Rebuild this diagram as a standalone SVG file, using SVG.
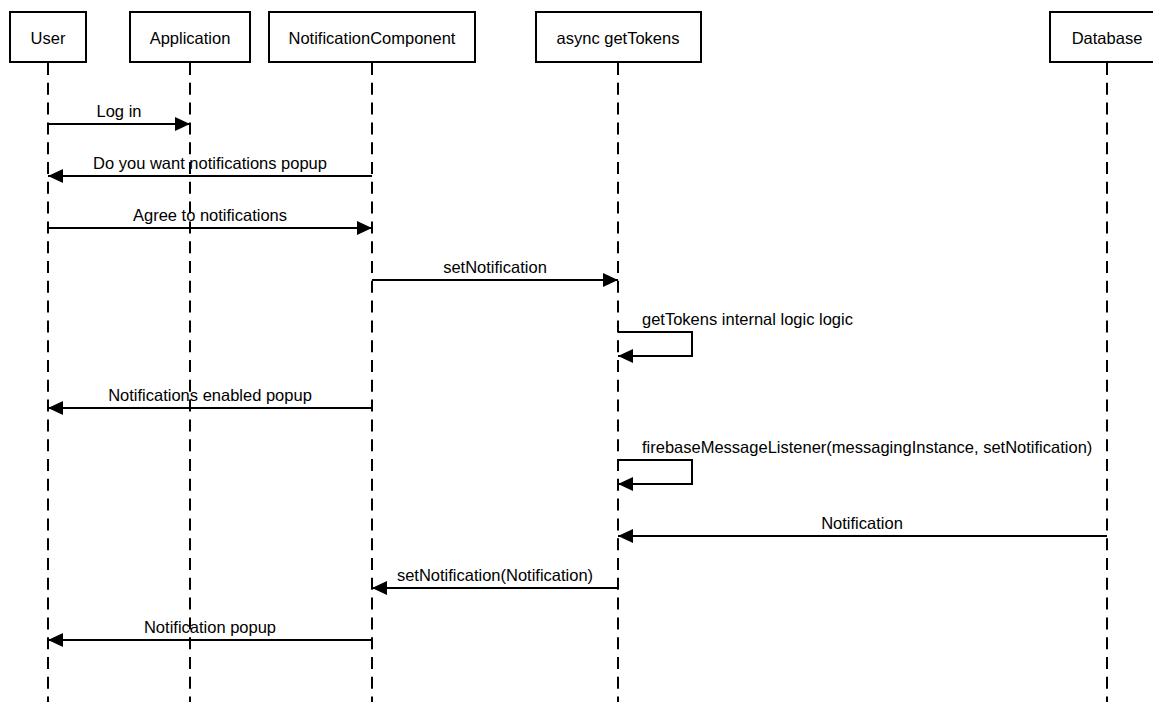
<svg xmlns="http://www.w3.org/2000/svg" width="1153" height="702" viewBox="0 0 1153 702">
<style>
text{font-family:"Liberation Sans",Arial,Helvetica,sans-serif;font-size:16.5px;fill:#000}
.actor rect{fill:#fff;stroke:#000;stroke-width:2}
.actor text{text-anchor:middle}
.life{stroke:#000;stroke-width:2;stroke-dasharray:12 7.8;fill:none}
.msg{stroke:#000;stroke-width:2;fill:none;marker-end:url(#ah)}
.lbl{text-anchor:middle}
.self{text-anchor:start}
</style>
<defs>
<marker id="ah" markerUnits="userSpaceOnUse" markerWidth="16" markerHeight="16" viewBox="0 0 16 16" refX="15" refY="7" orient="auto">
<path d="M0,0 L15,7 L0,14 z" fill="#000"/>
</marker>
</defs>
<rect width="1153" height="702" fill="#fff"/>
<g id="lifelines">
<line class="life" x1="48" y1="63" x2="48" y2="702"/>
<line class="life" x1="190" y1="63" x2="190" y2="702"/>
<line class="life" x1="372" y1="63" x2="372" y2="702"/>
<line class="life" x1="618" y1="63" x2="618" y2="702"/>
<line class="life" x1="1107" y1="63" x2="1107" y2="702"/>
</g>
<g id="actor-user" class="actor"><rect x="10" y="12" width="76" height="50"/><text x="48" y="44">User</text></g>
<g id="actor-application" class="actor"><rect x="130" y="12" width="120" height="50"/><text x="190" y="44">Application</text></g>
<g id="actor-notificationcomponent" class="actor"><rect x="269" y="12" width="206" height="50"/><text x="372" y="44">NotificationComponent</text></g>
<g id="actor-getTokens" class="actor"><rect x="536" y="12" width="165" height="50"/><text x="618" y="44">async getTokens</text></g>
<g id="actor-database" class="actor"><rect x="1050" y="12" width="114" height="50"/><text x="1107" y="44">Database</text></g>
<g id="connectors">
<line class="msg" x1="48" y1="124" x2="190" y2="124"/>
<text class="lbl" x="119" y="117">Log in</text>
<line class="msg" x1="372" y1="176" x2="48" y2="176"/>
<text class="lbl" x="210" y="169">Do you want notifications popup</text>
<line class="msg" x1="48" y1="228" x2="372" y2="228"/>
<text class="lbl" x="210" y="221">Agree to notifications</text>
<line class="msg" x1="372" y1="280" x2="618" y2="280"/>
<text class="lbl" x="495" y="273">setNotification</text>
<path class="msg" d="M618,332 H692 V356 H618"/>
<text class="self" x="642" y="325">getTokens internal logic logic</text>
<line class="msg" x1="372" y1="408" x2="48" y2="408"/>
<text class="lbl" x="210" y="401">Notifications enabled popup</text>
<path class="msg" d="M618,460 H692 V484 H618"/>
<text class="self" x="642" y="453">firebaseMessageListener(messagingInstance, setNotification)</text>
<line class="msg" x1="1107" y1="536" x2="618" y2="536"/>
<text class="lbl" x="862" y="529">Notification</text>
<line class="msg" x1="618" y1="588" x2="372" y2="588"/>
<text class="lbl" x="495" y="581">setNotification(Notification)</text>
<line class="msg" x1="372" y1="640" x2="48" y2="640"/>
<text class="lbl" x="210" y="633">Notification popup</text>
</g>
</svg>
